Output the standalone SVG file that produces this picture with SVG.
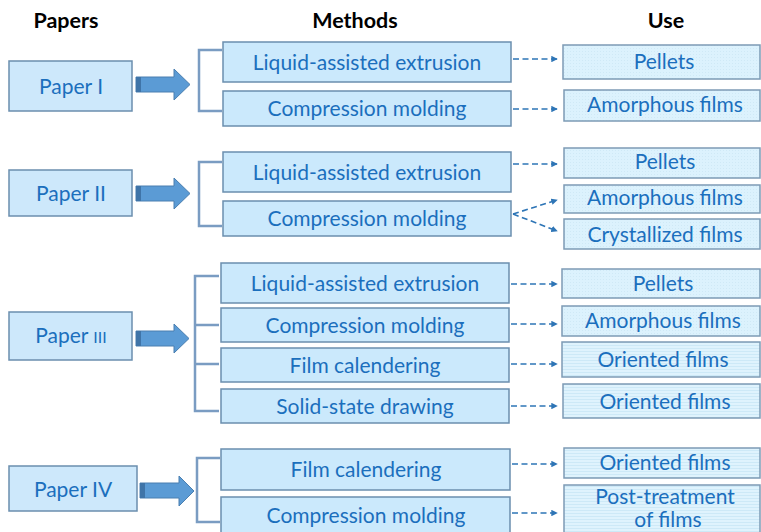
<svg xmlns="http://www.w3.org/2000/svg" width="761" height="532" viewBox="0 0 761 532">
  <style>
    text { font-family: Lato, "Liberation Sans", sans-serif; fill: #1b6fbd; text-anchor: middle; }
    .hdr { font-weight: bold; fill: #000; font-size: 21.5px; }
    .paper rect { fill: #cde8fb; stroke: #6b8eae; stroke-width: 1.5; }
    .paper text { font-size: 21px; }
    .method rect { fill: #cbe9fc; stroke: #6b8eae; stroke-width: 1.5; }
    .method text { font-size: 21px; }
    .use rect { stroke: #7d9bb5; stroke-width: 1.5; }
    .use text { font-size: 21px; }
    .dots { fill: url(#dotted); }
    .lines { fill: url(#striped); }
    .bracket { fill: none; stroke: #7a9cc2; stroke-width: 2.5; }
    .big { fill: #5b9bd5; stroke: #4a7fb0; stroke-width: 1; }
    .shade { fill: #3f74a8; }
    .dash { fill: none; stroke: #2e75b6; stroke-width: 1.6; stroke-dasharray: 6 3.5; marker-end: url(#tip); }
  </style>
  <defs>
    <marker id="tip" viewBox="0 0 8 8" refX="7" refY="4" markerWidth="6.5" markerHeight="6.5" markerUnits="userSpaceOnUse" orient="auto">
      <path d="M0,0 L8,4 L0,8 z" fill="#2e75b6"/>
    </marker>
    <pattern id="dotted" width="3" height="3" patternUnits="userSpaceOnUse">
      <rect width="3" height="3" fill="#dcf2fd"/>
      <rect width="1" height="1" fill="#cfe9f6"/>
    </pattern>
    <pattern id="striped" width="3" height="3" patternUnits="userSpaceOnUse">
      <rect width="3" height="3" fill="#dff3fd"/>
      <rect width="3" height="1" fill="#cde9f7"/>
    </pattern>
  </defs>

  <!-- column headings -->
  <text class="hdr" x="66" y="28">Papers</text>
  <text class="hdr" x="355" y="28">Methods</text>
  <text class="hdr" x="666" y="28">Use</text>

  <!-- ===== Paper I ===== -->
  <g id="paper1" class="paper">
    <rect x="9" y="61" width="123" height="50"/>
    <text x="71" y="94">Paper I</text>
  </g>
  <g id="p1-arrow">
    <path class="big" d="M136,77 H174 V69 L190,84.5 L174,100 V92 H136 z"/>
    <rect class="shade" x="136" y="77" width="5" height="15"/>
  </g>
  <g id="p1-m1" class="method">
    <rect x="223" y="42" width="288" height="40"/>
    <text x="367" y="70">Liquid-assisted extrusion</text>
  </g>
  <g id="p1-m2" class="method">
    <rect x="223" y="91" width="288" height="35"/>
    <text x="367" y="116">Compression molding</text>
  </g>
  <g id="p1-u1" class="use">
    <rect class="dots" x="563" y="45" width="197" height="34"/>
    <text x="664" y="69">Pellets</text>
  </g>
  <g id="p1-u2" class="use">
    <rect class="dots" x="564" y="90" width="196" height="31"/>
    <text x="665" y="112">Amorphous films</text>
  </g>

  <!-- ===== Paper II ===== -->
  <g id="paper2" class="paper">
    <rect x="9" y="170" width="123" height="46"/>
    <text x="71" y="201">Paper II</text>
  </g>
  <g id="p2-arrow">
    <path class="big" d="M136,186 H174 V178 L190,193.5 L174,209 V201 H136 z"/>
    <rect class="shade" x="136" y="186" width="5" height="15"/>
  </g>
  <g id="p2-m1" class="method">
    <rect x="223" y="152" width="288" height="40"/>
    <text x="367" y="180">Liquid-assisted extrusion</text>
  </g>
  <g id="p2-m2" class="method">
    <rect x="223" y="201" width="288" height="35"/>
    <text x="367" y="226">Compression molding</text>
  </g>
  <g id="p2-u1" class="use">
    <rect class="dots" x="564" y="148" width="196" height="30"/>
    <text x="665" y="169">Pellets</text>
  </g>
  <g id="p2-u2" class="use">
    <rect class="dots" x="564" y="185" width="196" height="28"/>
    <text x="665" y="205">Amorphous films</text>
  </g>
  <g id="p2-u3" class="use">
    <rect class="dots" x="564" y="219" width="196" height="30"/>
    <text x="665" y="242">Crystallized films</text>
  </g>

  <!-- ===== Paper III ===== -->
  <g id="paper3" class="paper">
    <rect x="9" y="312" width="123" height="48"/>
    <text x="71" y="343">Paper <tspan font-size="16">III</tspan></text>
  </g>
  <g id="p3-arrow">
    <path class="big" d="M136,331 H174 V324 L189,338.5 L174,353 V346 H136 z"/>
    <rect class="shade" x="136" y="331" width="5" height="15"/>
  </g>
  <g id="p3-m1" class="method">
    <rect x="221" y="263" width="288" height="40"/>
    <text x="365" y="291">Liquid-assisted extrusion</text>
  </g>
  <g id="p3-m2" class="method">
    <rect x="221" y="308" width="288" height="34"/>
    <text x="365" y="333">Compression molding</text>
  </g>
  <g id="p3-m3" class="method">
    <rect x="221" y="348" width="288" height="34"/>
    <text x="365" y="373">Film calendering</text>
  </g>
  <g id="p3-m4" class="method">
    <rect x="221" y="389" width="288" height="34"/>
    <text x="365" y="414">Solid-state drawing</text>
  </g>
  <g id="p3-u1" class="use">
    <rect class="dots" x="562" y="269" width="198" height="29"/>
    <text x="663" y="291">Pellets</text>
  </g>
  <g id="p3-u2" class="use">
    <rect class="dots" x="562" y="306" width="198" height="30"/>
    <text x="663" y="328">Amorphous films</text>
  </g>
  <g id="p3-u3" class="use">
    <rect class="lines" x="562" y="342" width="198" height="35"/>
    <text x="663" y="367">Oriented films</text>
  </g>
  <g id="p3-u4" class="use">
    <rect class="lines" x="563" y="384" width="197" height="34"/>
    <text x="665" y="409">Oriented films</text>
  </g>

  <!-- ===== Paper IV ===== -->
  <g id="paper4" class="paper">
    <rect x="9" y="466" width="128" height="45"/>
    <text x="73" y="497">Paper IV</text>
  </g>
  <g id="p4-arrow">
    <path class="big" d="M140,483 H179 V476 L194,491 L179,506 V498 H140 z"/>
    <rect class="shade" x="140" y="483" width="5" height="15"/>
  </g>
  <g id="p4-m1" class="method">
    <rect x="221" y="449" width="289" height="41"/>
    <text x="366" y="477">Film calendering</text>
  </g>
  <g id="p4-m2" class="method">
    <rect x="221" y="497" width="289" height="45"/>
    <text x="366" y="523">Compression molding</text>
  </g>
  <g id="p4-u1" class="use">
    <rect class="lines" x="564" y="448" width="196" height="30"/>
    <text x="665" y="470">Oriented films</text>
  </g>
  <g id="p4-u2" class="use">
    <rect class="lines" x="564" y="485" width="196" height="55"/>
    <text x="665" y="504">Post-treatment</text>
    <text x="668" y="527">of films</text>
  </g>

  <!-- brackets and dashed links -->
  <g id="connectors">
    <path class="bracket" d="M222,50 H199 V111 H222"/>
    <path class="bracket" d="M222,162 H199 V226 H222"/>
    <path class="bracket" d="M219,276 H195 V411 H219 M195,325 H219 M195,364 H219"/>
    <path class="bracket" d="M220,458 H197 V522 H220"/>

    <path class="dash" d="M513,59 H557"/>
    <path class="dash" d="M513,109 H557"/>
    <path class="dash" d="M513,164 H557"/>
    <path class="dash" d="M513,214 L557,200"/>
    <path class="dash" d="M513,214 L557,231"/>
    <path class="dash" d="M511,284 H557"/>
    <path class="dash" d="M511,324 H557"/>
    <path class="dash" d="M511,364 H557"/>
    <path class="dash" d="M511,406 H557"/>
    <path class="dash" d="M512,464 H557"/>
    <path class="dash" d="M512,513 H557"/>
  </g>
</svg>
